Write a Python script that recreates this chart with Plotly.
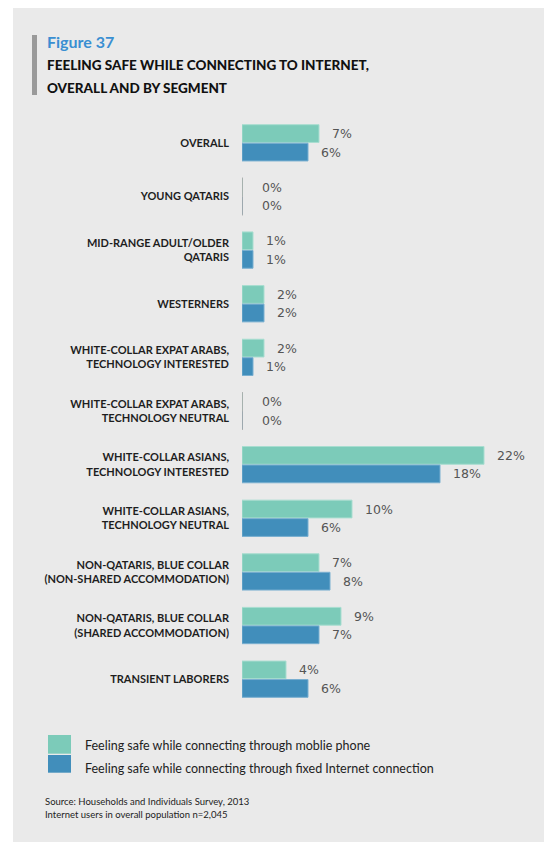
import plotly.graph_objects as go

# ---------------- data ----------------
categories = [
    "OVERALL",
    "YOUNG QATARIS",
    "MID-RANGE ADULT/OLDER<br>QATARIS",
    "WESTERNERS",
    "WHITE-COLLAR EXPAT ARABS,<br>TECHNOLOGY INTERESTED",
    "WHITE-COLLAR EXPAT ARABS,<br>TECHNOLOGY NEUTRAL",
    "WHITE-COLLAR ASIANS,<br>TECHNOLOGY INTERESTED",
    "WHITE-COLLAR ASIANS,<br>TECHNOLOGY NEUTRAL",
    "NON-QATARIS, BLUE COLLAR<br>(NON-SHARED ACCOMMODATION)",
    "NON-QATARIS, BLUE COLLAR<br>(SHARED ACCOMMODATION)",
    "TRANSIENT LABORERS",
]
mobile = [7, 0, 1, 2, 2, 0, 22, 10, 7, 9, 4]
fixed = [6, 0, 1, 2, 1, 0, 18, 6, 8, 7, 6]
series_names = [
    "Feeling safe while connecting through moblie phone",
    "Feeling safe while connecting through fixed Internet connection",
]

# ---------------- styling ----------------
W, H = 544, 843
L, R, T, B = 242, 27, 116, 137
pw, ph = W - L - R, H - T - B
C_MOBILE = "#7CCBB9"
C_FIXED = "#418EBB"
BARGAP = 0.31


def px(x):
    return (x - L) / pw


def py(y):
    return (H - B - y) / ph


idx = list(range(len(categories)))
fig = go.Figure()
fig.add_trace(go.Bar(y=idx, x=mobile, orientation="h", name=series_names[0],
                     marker=dict(color=C_MOBILE, line=dict(color="#A8DDD0", width=1))))
fig.add_trace(go.Bar(y=idx, x=fixed, orientation="h", name=series_names[1],
                     marker=dict(color=C_FIXED, line=dict(color="#79AFD0", width=1))))

slot = (1 - BARGAP) / 2
annotations = []
shapes = []
for i in idx:
    for vals, off in ((mobile, -slot / 2), (fixed, slot / 2)):
        v = vals[i]
        annotations.append(dict(x=v, y=i + off, xref="x", yref="y", text=f"{v}%",
                                showarrow=False, xanchor="left", yanchor="middle",
                                xshift=11 if v > 0 else 18,
                                font=dict(family="DejaVu Sans", size=12.5, color="#555555")))
    if mobile[i] == 0 and fixed[i] == 0:
        shapes.append(dict(type="line", xref="x", yref="y", x0=0, x1=0,
                           y0=i - 0.355, y1=i + 0.355,
                           line=dict(color="#A0A0A0", width=1.5)))

# background panel and title bar
shapes.insert(0, dict(type="rect", xref="paper", yref="paper", x0=px(13), x1=px(W + 5),
                      y0=py(842), y1=py(8), fillcolor="#EAEAEA", line=dict(width=0), layer="below"))
shapes.append(dict(type="rect", xref="paper", yref="paper", x0=px(32), x1=px(37),
                   y0=py(95), y1=py(35), fillcolor="#9A9A9A", line=dict(width=0)))
# custom legend swatches
shapes.append(dict(type="rect", xref="paper", yref="paper", x0=px(48), x1=px(71),
                   y0=py(753.7), y1=py(735), fillcolor=C_MOBILE, line=dict(width=0)))
shapes.append(dict(type="rect", xref="paper", yref="paper", x0=px(48), x1=px(71),
                   y0=py(772.7), y1=py(755), fillcolor=C_FIXED, line=dict(width=0)))

texts = [
    ("Figure 37", 45, 42, dict(family="Lato", size=16, color="#3A8FD2", weight="bold")),
    ("FEELING SAFE WHILE CONNECTING TO INTERNET,", 45, 65,
     dict(family="Lato", size=13.5, color="#111111", weight=900)),
    ("OVERALL AND BY SEGMENT", 45, 88, dict(family="Lato", size=13.5, color="#111111", weight=900)),
    (series_names[0], 83, 745, dict(family="Lato", size=12.5, color="#222222")),
    (series_names[1], 83, 768.7, dict(family="Lato", size=12.5, color="#222222")),
    ("Source: Households and Individuals Survey, 2013", 43, 801.7,
     dict(family="Lato", size=9.5, color="#222222")),
    ("Internet users in overall population n=2,045", 43, 814,
     dict(family="Lato", size=9.5, color="#222222")),
]
for t, x, y, f in texts:
    annotations.append(dict(text=t, x=px(x), y=py(y), xref="paper", yref="paper",
                            showarrow=False, xanchor="left", yanchor="middle", font=f))

fig.update_layout(
    width=W, height=H, autosize=False,
    margin=dict(l=L, r=R, t=T, b=B),
    paper_bgcolor="white", plot_bgcolor="rgba(0,0,0,0)",
    barmode="group", bargap=BARGAP, bargroupgap=0.04,
    showlegend=False,
    shapes=shapes, annotations=annotations,
    xaxis=dict(range=[0, 25], visible=False, fixedrange=True),
    yaxis=dict(range=[len(categories) - 0.5, -0.5], tickvals=idx, ticktext=categories,
               showgrid=False, zeroline=False, showline=False, ticks="",
               ticklabelstandoff=12,
               tickfont=dict(family="Lato", size=11, color="#1E1E1E", weight="bold")),
)

fig.write_html("out.html")
